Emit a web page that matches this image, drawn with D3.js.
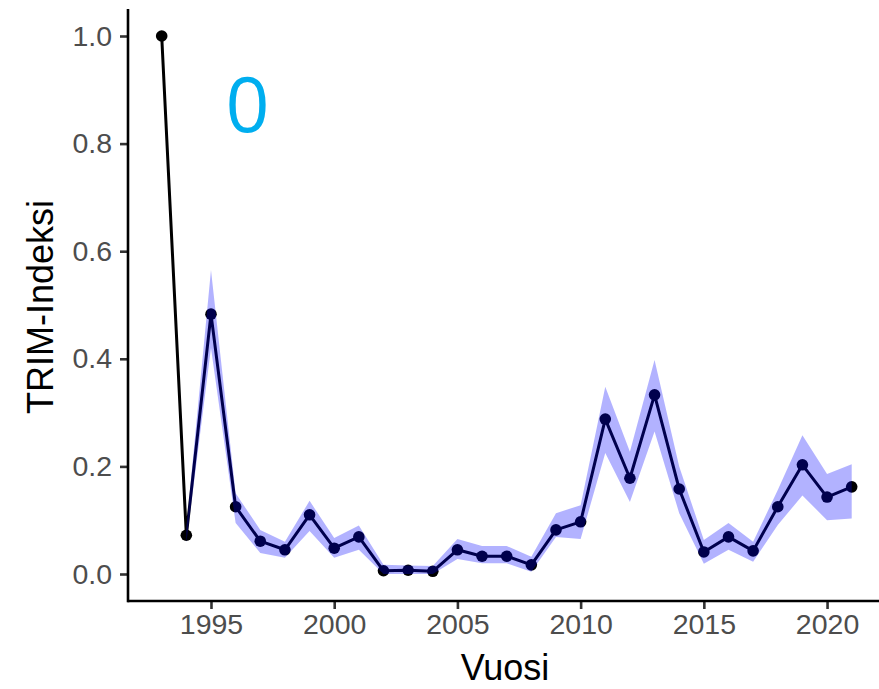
<!DOCTYPE html>
<html><head><meta charset="utf-8">
<script src="https://cdn.jsdelivr.net/npm/d3@7"></script>
<style>body{margin:0;background:#fff}svg{display:block}</style>
</head><body>
<svg id="c" width="879" height="689"></svg>
<script>
const years = [1993,1994,1995,1996,1997,1998,1999,2000,2001,2002,2003,2004,2005,2006,2007,2008,2009,2010,2011,2012,2013,2014,2015,2016,2017,2018,2019,2020,2021];
const index = [1.0,0.072,0.483,0.125,0.061,0.045,0.110,0.048,0.069,0.006,0.007,0.005,0.045,0.033,0.033,0.017,0.082,0.097,0.288,0.178,0.333,0.158,0.041,0.069,0.043,0.125,0.203,0.143,0.162];
const bandYears = years.slice(1);
const lower = [0.058,0.42,0.095,0.039,0.030,0.080,0.030,0.045,0.0,0.0,0.0,0.028,0.020,0.020,0.004,0.069,0.065,0.225,0.134,0.265,0.113,0.019,0.045,0.023,0.091,0.146,0.100,0.103];
const upper = [0.086,0.565,0.150,0.082,0.060,0.136,0.067,0.090,0.017,0.016,0.015,0.065,0.052,0.052,0.032,0.113,0.128,0.348,0.227,0.398,0.200,0.063,0.095,0.060,0.156,0.258,0.186,0.204];
const yTicks = [0,0.2,0.4,0.6,0.8,1.0];
const xTicks = [1995,2000,2005,2010,2015,2020];
const yLabel = "TRIM-Indeksi", xLabel = "Vuosi", tag = "0";

const svg = d3.select("#c");
const x = d3.scaleLinear().domain([1993-1.4, 2021+1.4]).range([127.2, 886.2]);
const y = d3.scaleLinear().domain([0, 1]).range([574, 36]);
const font = "'Liberation Sans', Arial, sans-serif";

// line and points
const line = d3.line().x((d,i)=>x(years[i])).y(d=>y(d));
svg.append("path").datum(index).attr("d", line).attr("fill","none").attr("stroke","#000").attr("stroke-width",3).attr("stroke-linejoin","round");
svg.selectAll("circle.pt").data(index).join("circle").attr("class","pt")
  .attr("cx",(d,i)=>x(years[i])).attr("cy",d=>y(d)).attr("r",5.8).attr("fill","#000");

// ribbon on top
const area = d3.area().x((d,i)=>x(bandYears[i])).y0((d,i)=>y(lower[i])).y1((d,i)=>y(upper[i]));
svg.append("path").datum(lower).attr("d", area).attr("fill","blue").attr("fill-opacity",0.3);

// axes
const xAxis = d3.axisBottom(x).tickValues(xTicks).tickFormat(d3.format("d")).tickSize(8).tickPadding(5);
const gx = svg.append("g").attr("transform","translate(0,601)").call(xAxis);
gx.select(".domain").remove();
gx.append("line").attr("x1",127.5).attr("x2",879).attr("stroke","#000").attr("stroke-width",2.6);
gx.selectAll(".tick line").attr("stroke","#333").attr("stroke-width",2.6);
gx.selectAll(".tick text").attr("fill","#4d4d4d").style("font-family",font).style("font-size","28.5px");

const yAxis = d3.axisLeft(y).tickValues(yTicks).tickFormat(d3.format(".1f")).tickSize(8).tickPadding(8);
const gy = svg.append("g").attr("transform","translate(128,0)").call(yAxis);
gy.select(".domain").remove();
gy.append("line").attr("y1",9).attr("y2",602.3).attr("stroke","#000").attr("stroke-width",2.6);
gy.selectAll(".tick line").attr("stroke","#333").attr("stroke-width",2.6);
gy.selectAll(".tick text").attr("fill","#4d4d4d").style("font-family",font).style("font-size","28.5px");

// titles
svg.append("text").attr("x",505).attr("y",680).attr("text-anchor","middle")
  .style("font-family",font).style("font-size","36px").attr("fill","#000").text(xLabel);
svg.append("text").attr("transform","translate(53,307) rotate(-90)").attr("text-anchor","middle")
  .style("font-family",font).style("font-size","36px").attr("fill","#000").text(yLabel);

// tag
svg.append("text").attr("x",247.5).attr("y",132).attr("text-anchor","middle")
  .style("font-family","'Open Sans', 'Noto Sans', sans-serif").style("font-size","77px").attr("fill","#00AEEF").text(tag);
</script>
</body></html>
